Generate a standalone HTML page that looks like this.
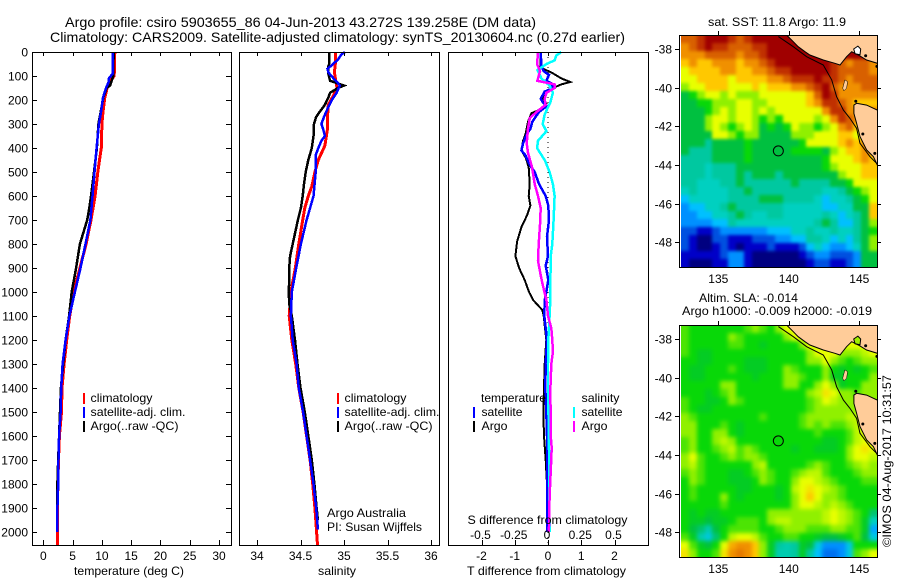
<!DOCTYPE html>
<html>
<head>
<meta charset="utf-8">
<title>Argo profile</title>
<style>
html,body{margin:0;padding:0;background:#fff;}
svg{display:block;}
text{font-family:"Liberation Sans",sans-serif;font-size:12px;fill:#000;}
.t{font-size:14px;}
</style>
</head>
<body>
<svg id="chart" width="900" height="580" viewBox="0 0 900 580" xmlns="http://www.w3.org/2000/svg">
<rect width="900" height="580" fill="#fff"/>
<text class="t" x="65" y="27" textLength="471" lengthAdjust="spacingAndGlyphs">Argo profile: csiro 5903655_86 04-Jun-2013 43.272S 139.258E (DM data)</text>
<text class="t" x="50" y="42" textLength="575" lengthAdjust="spacingAndGlyphs">Climatology: CARS2009. Satellite-adjusted climatology: synTS_20130604.nc (0.27d earlier)</text>
<g id="marks"></g>
<g id="labels">
<text x="74" y="575" textLength="110" lengthAdjust="spacingAndGlyphs">temperature (deg C)</text>
<text x="318" y="575" textLength="38" lengthAdjust="spacingAndGlyphs">salinity</text>
<text x="467" y="575" textLength="159" lengthAdjust="spacingAndGlyphs">T difference from climatology</text>
<text x="467.5" y="524" textLength="160" lengthAdjust="spacingAndGlyphs">S difference from climatology</text>
<rect x="83" y="393" width="2" height="11" fill="#f00"/>
<rect x="83" y="407" width="2" height="11" fill="#00f"/>
<rect x="83" y="421" width="2" height="11" fill="#000"/>
<text x="90.5" y="402" textLength="62" lengthAdjust="spacingAndGlyphs">climatology</text>
<text x="90.5" y="416" textLength="95" lengthAdjust="spacingAndGlyphs">satellite-adj. clim.</text>
<text x="90.5" y="430" textLength="88" lengthAdjust="spacingAndGlyphs">Argo(..raw -QC)</text>
<rect x="337" y="393" width="2" height="11" fill="#f00"/>
<rect x="337" y="407" width="2" height="11" fill="#00f"/>
<rect x="337" y="421" width="2" height="11" fill="#000"/>
<text x="344.5" y="402" textLength="62" lengthAdjust="spacingAndGlyphs">climatology</text>
<text x="344.5" y="416" textLength="95" lengthAdjust="spacingAndGlyphs">satellite-adj. clim.</text>
<text x="344.5" y="430" textLength="88" lengthAdjust="spacingAndGlyphs">Argo(..raw -QC)</text>
<text x="327" y="517" textLength="79" lengthAdjust="spacingAndGlyphs">Argo Australia</text>
<text x="327" y="531" textLength="95" lengthAdjust="spacingAndGlyphs">PI: Susan Wijffels</text>
<text x="481" y="402" textLength="65" lengthAdjust="spacingAndGlyphs">temperature</text>
<text x="481.5" y="416" textLength="41" lengthAdjust="spacingAndGlyphs">satellite</text>
<text x="481.5" y="430" textLength="26" lengthAdjust="spacingAndGlyphs">Argo</text>
<rect x="473" y="407" width="2" height="11" fill="#00f"/>
<rect x="473" y="421" width="2" height="11" fill="#000"/>
<text x="581.5" y="402" textLength="38" lengthAdjust="spacingAndGlyphs">salinity</text>
<text x="581.5" y="416" textLength="41" lengthAdjust="spacingAndGlyphs">satellite</text>
<text x="581.5" y="430" textLength="26" lengthAdjust="spacingAndGlyphs">Argo</text>
<rect x="573" y="407" width="2" height="11" fill="#0ff"/>
<rect x="573" y="421" width="2" height="11" fill="#f0f"/>
<text x="708" y="26" textLength="138" lengthAdjust="spacingAndGlyphs">sat. SST: 11.8 Argo: 11.9</text>
<text x="699" y="302" textLength="99" lengthAdjust="spacingAndGlyphs">Altim. SLA: -0.014</text>
<text x="682" y="315" textLength="190" lengthAdjust="spacingAndGlyphs">Argo h1000: -0.009 h2000: -0.019</text>
<text transform="translate(891,547) rotate(-90)" x="0" y="0" textLength="172" lengthAdjust="spacingAndGlyphs">©IMOS 04-Aug-2017 10:31:57</text>
</g>
</svg>
<script>
// ---------- profile data (depth in m) ----------
var depthTicks = [0,100,200,300,400,500,600,700,800,900,1000,1100,1200,1300,1400,1500,1600,1700,1800,1900,2000];
var tempTicks = [0,5,10,15,20,25,30];
var salTicks = ['34','34.5','35','35.5','36'];
var tDiffTicks = ['-2','-1','0','1','2'];
var sDiffTicks = ['-0.5','-0.25','0','0.25','0.5'];

var tempClimDepth = [0,100,130,190,250,300,400,450,500,600,700,800,900,1000,1100,1200,1300,1400,1500,1600,1700,1800,1900,2000,2055];
var tempClim = [12.2,12.1,11.1,10.5,10.2,10,9.9,9.6,9.3,8.85,8.15,7.3,6.25,5.2,4.5,4,3.55,3.2,3.1,2.75,2.6,2.5,2.4,2.4,2.4];
var tempArgoDepth = [0,100,140,150,190,250,300,400,500,600,650,700,800,900,1000,1100,1200,1300,1400,1500,1600,1700,1800,1900,2000];
var tempArgo = [12,11.95,11.4,10.8,10.25,9.8,9.4,9.15,8.65,8.15,7.85,7.5,6.25,5.6,4.85,4.4,3.8,3.4,3,2.85,2.7,2.55,2.4,2.35,2.4];
var tempSatDepth = [0,90,110,125,150,190,250,300,400,500,600,700,800,900,1000,1100,1200,1300,1400,1500,1600,1700,1800,1900,2000];
var tempSat = [11.85,11.85,11.2,11.15,10.7,10.2,9.85,9.5,9.1,8.75,8.4,8.05,7.2,6.35,5.4,4.45,3.8,3.3,3.05,2.95,2.7,2.6,2.55,2.4,2.35];

var salClimDepth = [0,50,85,130,150,180,220,270,320,390,450,500,560,600,650,700,800,900,1000,1100,1200,1300,1400,1500,1600,1700,1800,1900,2000,2055];
var salClim = [34.9,34.9,34.89,34.91,34.92,34.88,34.82,34.81,34.81,34.78,34.705,34.665,34.63,34.59,34.55,34.525,34.48,34.44,34.39,34.37,34.4,34.445,34.48,34.53,34.57,34.61,34.64,34.665,34.685,34.695];
var salArgoDepth = [0,50,60,90,120,130,140,150,170,190,220,250,270,300,350,400,450,500,550,600,650,700,750,800,850,900,950,1000,1050,1100,1200,1300,1400,1500,1600,1700,1800,1900,1950];
var salArgo = [34.83,34.83,34.82,34.82,34.84,34.92,35,34.93,34.84,34.82,34.78,34.72,34.68,34.655,34.65,34.63,34.59,34.56,34.54,34.525,34.505,34.47,34.44,34.41,34.38,34.37,34.37,34.365,34.37,34.4,34.437,34.465,34.5,34.55,34.59,34.63,34.66,34.685,34.7];
var salSatDepth = [0,10,30,55,70,85,110,125,140,170,200,230,270,300,320,350,370,400,430,500,600,650,700,800,900,1000,1100,1200,1300,1400,1500,1600,1700,1800,1900,1990];
var salSat = [35.01,34.97,34.935,34.86,34.81,34.82,34.88,34.92,34.95,34.915,34.86,34.82,34.77,34.74,34.76,34.78,34.74,34.705,34.675,34.675,34.65,34.61,34.57,34.505,34.45,34.4,34.39,34.41,34.455,34.48,34.53,34.57,34.61,34.65,34.68,34.7];

var dTArgoDepth = [0,60,70,85,110,125,135,150,170,195,215,230,255,290,340,370,410,440,480,550,600,640,680,730,790,850,900,950,1000,1033,1075,1100,1200,1300,1400,1500,1600,1700,1800,2000];
var dTArgo = [-0.22,-0.22,-0.15,0.1,0.4,0.67,0.4,0.15,-0.1,-0.15,-0.05,-0.07,-0.5,-0.6,-0.67,-0.75,-0.8,-0.67,-0.58,-0.55,-0.58,-0.53,-0.63,-0.8,-0.93,-0.98,-0.87,-0.7,-0.57,-0.45,-0.17,-0.13,-0.05,-0.1,-0.12,-0.14,-0.12,-0.07,-0.03,-0.02];
var dTSatDepth = [0,60,80,95,120,130,150,165,195,210,225,250,290,320,340,380,410,430,470,500,550,600,640,700,770,850,890,950,1000,1033,1100,1150,1200,1300,1400,1500,1600,1700,1800,2000];
var dTSat = [-0.22,-0.2,-0.13,0.03,-0.05,0.1,0.15,-0.1,-0.22,-0.15,-0.03,-0.27,-0.47,-0.53,-0.63,-0.75,-0.8,-0.68,-0.55,-0.4,-0.27,-0.07,0.01,0.03,-0.03,0,-0.07,0.01,-0.05,-0.1,-0.11,-0.07,-0.03,-0.07,-0.08,-0.05,-0.03,-0.03,-0.03,-0.03];
var dSSatDepth = [0,15,35,50,75,110,140,170,210,260,300,330,370,400,420,450,500,550,600,700,800,850,1000,1033,1100,1200,1300,1400,1600,2000];
var dSSat = [0.1,0.062,0.05,-0.012,-0.08,-0.05,0.012,0.037,0.017,-0.025,-0.04,-0.012,-0.075,-0.082,-0.06,-0.025,0.012,0.037,0.05,0.042,0.032,0.02,0.017,0.017,0.012,0.002,0,0,0.007,0.012];
var dSArgoDepth = [0,50,80,120,135,150,170,195,220,245,275,320,380,420,480,550,600,650,720,800,870,930,970,1033,1100,1150,1200,1250,1300,1400,1600,1650,1750,1850,2000];
var dSArgo = [-0.075,-0.082,-0.06,-0.08,0.05,0.05,-0.012,-0.025,-0.018,-0.075,-0.137,-0.15,-0.16,-0.15,-0.12,-0.1,-0.075,-0.055,-0.06,-0.07,-0.075,-0.055,-0.04,-0.012,0,0.025,0.032,0.037,0.025,0.018,0.02,0.028,0.02,0.012,0.007];

// ---------- map data (colour-scale levels per grid cell) ----------
var mapLonTicks = [135,140,145];
var mapLatTicks = [-38,-40,-42,-44,-46,-48];
var floatLon = [139.258];
var floatLat = [-43.272];
var sstGrid = [
[13,13,14,15,15,15,14,13,14,15,15,15,15,15,15,15,15,15,15,15,15,15,15,15,15],
[12,13,14,15,14,14,13,13,13,14,14,15,15,15,15,15,15,15,15,15,15,15,15,15,15],
[12,12,12,13,13,13,13,12,13,13,14,15,15,15,15,15,15,15,15,15,15,15,15,15,15],
[11,12,11,11,12,12,12,11,12,12,13,14,15,15,15,15,15,15,15,14,13,12,13,13,12],
[10,11,11,11,11,12,12,11,11,12,12,13,14,14,15,15,15,15,15,14,13,13,13,13,12],
[10,10,11,11,11,11,10,11,11,11,11,12,12,13,14,14,14,15,14,14,13,12,13,13,13],
[9,10,10,11,11,11,10,10,10,11,10,11,11,11,12,12,13,14,15,13,12,12,12,13,13],
[7,8,9,10,10,9,10,9,9,9,10,10,10,10,10,10,11,13,15,14,12,12,12,12,12],
[7,7,8,8,9,9,9,10,10,9,9,10,10,10,10,10,11,12,14,14,13,12,11,11,11],
[7,7,7,8,9,10,9,10,10,9,10,9,10,10,10,10,10,10,12,14,14,12,12,12,12],
[7,7,7,9,10,10,9,10,10,9,8,9,8,10,10,10,10,9,10,12,14,13,12,12,12],
[7,7,7,9,10,9,8,9,10,9,7,8,7,8,10,9,9,8,9,10,12,13,11,11,11],
[7,7,7,7,10,10,9,8,9,9,7,7,7,7,9,9,9,10,10,10,11,11,10,11,11],
[7,7,7,6,7,7,7,7,8,7,7,7,7,7,7,8,10,10,10,10,11,12,11,12,12],
[7,6,6,6,7,7,7,7,8,7,7,7,7,7,8,8,8,8,7,9,10,11,11,12,12],
[6,6,6,6,7,7,7,7,8,7,7,7,7,7,7,7,7,7,8,10,10,10,11,12,11],
[6,6,6,5,6,6,6,7,7,7,7,7,7,7,7,7,7,7,8,9,10,10,10,11,11],
[6,6,6,5,6,6,6,7,6,7,7,7,6,7,7,7,7,7,7,7,9,10,10,11,11],
[6,6,5,5,5,6,6,7,6,6,6,6,6,6,7,6,6,6,6,7,7,8,10,10,10],
[5,6,5,5,5,5,6,6,7,6,6,6,6,6,6,6,6,6,5,5,6,7,8,9,10],
[4,5,5,5,5,5,6,6,6,6,7,7,7,6,6,6,6,5,4,5,5,6,7,8,10],
[3,4,4,5,5,6,7,6,6,6,6,6,6,5,5,5,5,5,4,4,5,5,7,7,11],
[3,3,4,4,5,5,6,7,6,5,5,6,6,5,5,5,5,5,6,5,4,5,6,7,11],
[3,3,3,3,4,4,6,5,5,5,5,5,5,5,5,5,5,6,7,6,4,4,6,7,9],
[2,2,1,1,2,3,3,3,3,3,3,4,4,4,5,5,6,5,5,6,5,5,6,7,8],
[2,1,0,0,2,2,1,1,1,2,2,2,3,3,4,4,6,6,5,4,5,4,6,7,9],
[2,1,0,0,1,2,1,0,1,1,1,2,1,1,1,2,4,5,4,3,3,4,5,7,9],
[1,1,1,1,1,2,3,3,1,0,0,0,0,0,0,1,2,3,3,2,2,2,3,7,7],
[1,0,0,0,1,1,3,3,1,0,0,0,0,0,0,0,1,2,2,1,1,2,3,7,7]
];
var slaGrid = [
[8.5,8,8,8,8,8,8,8,8.5,9,8.5,8,9,10,10,10,10,10,10,10,10,10,10,10,10],
[8.5,8,8,8,8,8,9,8.5,8,8,8,8,8,9,10,10,10,10,10,10,10,10,10,10,10],
[8.5,8,8,8,8,8,8.5,8.5,8,8,7.5,8,8,8,8,9,10,10,10,10,10,10,10,10,10],
[8.5,8,7.5,7.5,8,8,8,8,8,8,8,8,8,8,8,8,9,10,10,10,9,9,9,9.5,10],
[8,8,7.5,7.5,8,8,8,8,7.5,7.5,7.5,8,8,8,8,8,9,9,10,9,8.5,8,8.5,9,9],
[8,7.5,7.5,8,8,8,8.5,8,7.5,7.5,7.5,8,8,9,8.5,8,8,8,9,8,7.5,8,7.5,8,8.5],
[8,7.5,7.5,8,8,8,8,8,8,7.5,8,8,8,9,9,8.5,8,8,9,7.5,7.5,8,8,8,9],
[8,8,8,8,8,9,9,8,8,8,8,8,8,9,9,8,8,9,10,9,7.5,8,8,9,9],
[8,8,8,7.5,8,8.5,9,8,8,8,8,8,8,8,8,8,9,9.5,10.5,10,9,9,8.5,9,9],
[8.5,8,8,7.5,7.5,8,9,8.5,8,8,8,8,8,8,8,8,8.5,9,10,9.5,9,9,9,9,9],
[8.5,8,7.5,7.5,8,8,8,8,8,8,8,8,8,8,8,8,8.5,9,9,9,9,9,9,9,9],
[9,8.5,8,8,8,8,8,8,8,8,8.5,8,8,8,8,8.5,9,9,9,9,9,9.5,9.5,9.5,9.5],
[9,9,8,8,8,8.5,8,7.5,8,8,8,8,8,8,8,8.5,9,8.5,9,8.5,8.5,9,9.5,10,10],
[9,9,8,8,9,9,8,7.5,8,8,8,8,8,8,8,8,8,8.5,8,8,8,8.5,9.5,10,10],
[8.5,9,8,8,9,9.5,9,8,8,8,8,8,8,8,8,8,8,8,7.5,7.5,8,8.5,9.5,10,10],
[8.5,9,8,8,8.5,9,9.5,8.5,9,8.5,8,8,8,8,7.5,8,8,7.5,7.5,7.5,8,9,10,10.5,10],
[9,10,8.5,8,8,8.5,9,8.5,9,9,8.5,8,8,8,8,8,8,8,8,8,8,9,10,10,9.5],
[9,9.5,8.5,8,8,8,8,8,8,9,9.5,8,8,8,8,8,8.5,9,8.5,8,8,8.5,9,9.5,9],
[8.5,9,8.5,8,8,8,7.5,7.5,8,8.5,9,8.5,8,8,8.5,9,9.5,9.5,8.5,8,8,8,8.5,9,9],
[8,9,8.5,8,8,8,7.5,7.5,7.5,8,9,8.5,8,8,9,10,10,9.5,9,8.5,8,8,8,8.5,8.5],
[8,8.5,8,8,8,8,8,7.5,7.5,8,8,8,7.5,8,9.5,10,10.5,10,9.5,9,8.5,8,8,8,8],
[8,8.5,8,8,8,9,8,7.5,8,8,8,8,7.5,8,9,10,11,10,9,9,8.5,8,8,8,8],
[8,8,8,8,8,8.5,8,8,8,8,8,8,8,8,9,10,10,9.5,9,9.5,9,8.5,8,8,8],
[8,7.5,8,7.5,7.5,8,8,8,8,8,8,9,9,9,9,9,9,9,9.5,10,9.5,9,8.5,8,6.5],
[8,7.5,7.5,7,7.5,7.5,8,8.5,8.5,8.5,8,9,9.5,9.5,9,9,9,9,9.5,10,9.5,9,8.5,7.5,5],
[8,7,6.5,5.5,7,8,8.5,8.5,8.5,8.5,8,8,8.5,9,9,9,8.5,8.5,8.5,9,9,8.5,8.5,7.5,3.5],
[8.5,7.5,5.5,4.5,6.5,8,9.5,10,10,9.5,8.5,8,8,8.5,8.5,8,8,7.5,7,7,7.5,8,8.5,7,4.5],
[10,8.5,7.5,7,8,10,11.5,12,12,11,9,7.5,6,5.5,6,7.5,7,4.5,3,3,3,4.5,8,8,8],
[10.5,9,8,8,8.5,10.5,12,12.5,12,11,9,7.5,5.5,5.5,6,7.5,6,4,2.5,2.5,3,4.5,8.5,9,10]
];
var colorScale = ['#000080','#0000c8','#0050e0','#0090ff','#00c0ff','#00d0c0','#00c8a0','#00c040','#08d808','#90f000','#e8ff00','#ffc800','#f09000','#d86000','#c03000','#a00000'];

// coast outlines (lon/lat)
var victoriaLon = [139.85,140.32,140.67,141.15,141.5,142.45,143.27,143.63,144.1,144.46,144.93,145.52,146.28,146.6,146.6];
var victoriaLat = [-37.28,-37.62,-37.88,-38.14,-38.31,-38.57,-38.74,-38.83,-38.4,-38.14,-38.31,-38.57,-38.74,-38.74,-37.28];
var tasmaniaLon = [144.62,144.81,145.52,146.28,146.6,146.6,146.28,146,145.52,145.05,144.81,144.62];
var tasmaniaLat = [-40.9,-40.81,-40.9,-41.16,-41.16,-44,-44,-43.57,-43.22,-42.53,-41.84,-41.33];
var kingIslandLon = [143.82,143.98,144.17,144.1,143.91];
var kingIslandLat = [-40.03,-39.6,-39.69,-40.03,-40.17];
var phillipIslandLon = [144.6,144.9,145.1,145.05,144.7];
var phillipIslandLat = [-38,-37.85,-38,-38.3,-38.25];
var shelfLon = [139.26,140.32,141.26,142.45,143.04,143.39,143.87,144.34,144.81,145.05,145.76,146.28];
var shelfLat = [-37.36,-37.88,-38.4,-38.83,-39.6,-40.47,-41.16,-41.59,-42.1,-42.88,-43.57,-43.95];
var smallIslesLon = [145.45,144.75,145.25,146.1,146.25];
var smallIslesLat = [-38.35,-40.7,-42.4,-43.4,-38.9];

// ---------- axis functions ----------
var NS = 'http://www.w3.org/2000/svg';
var root = document.getElementById('marks');
function mk(tag, attrs, parent) {
  var el = document.createElementNS(NS, tag);
  for (var k in attrs) el.setAttribute(k, attrs[k]);
  (parent || root).appendChild(el);
  return el;
}
function yDepth(d) { return 52 + d * 0.24; }
function xTemp(t) { return 43.3 + t * 5.857; }
function xSal(s) { return 257 + (s - 34) * 87; }
function xDT(t) { return 548 + t * 33.25; }
function xDS(s) { return 548 + s * 133; }
function xLon(lon) { return 718.3 + (lon - 135) * 14.1; }
function pts(xs, ys, fx, fy) {
  var out = [];
  for (var i = 0; i < xs.length; i++) out.push(fx(xs[i]).toFixed(1) + ',' + fy(ys[i]).toFixed(1));
  return out.join(' ');
}
function hLine(x1, x2, y, name) {
  var el = mk('line', {x1:x1, x2:x2, y1:y, y2:y, stroke:'#000', 'stroke-width':1, 'shape-rendering':'crispEdges'});
  
  
  return el;
}
function vLine(x, y1, y2, name) {
  var el = mk('line', {x1:x, x2:x, y1:y1, y2:y2, stroke:'#000', 'stroke-width':1, 'shape-rendering':'crispEdges'});
  
  
  return el;
}
function label(str, x, y, anchor, name) {
  var el = mk('text', {x:x, y:y, 'text-anchor':anchor});
  el.textContent = str;
  
  
  return el;
}
function series(valuesX, depths, fx, color, width, name) {
  var el = mk('polyline', {points: pts(valuesX, depths, fx, yDepth), fill:'none', stroke:color, 'stroke-width':width, 'stroke-linejoin':'miter', 'shape-rendering':'crispEdges'});
  
  
  return el;
}
function frame(x1, y1, x2, y2, name) {
  var el = mk('rect', {x:x1 + 0.5, y:y1 + 0.5, width:x2 - x1, height:y2 - y1, fill:'none', stroke:'#000', 'stroke-width':1, 'shape-rendering':'crispEdges'});
  
  
}
function xTicksIn(fx, values, name) {
  for (var i = 0; i < values.length; i++) {
    var x = Math.round(fx(+values[i])) + 0.5;
    vLine(x, 52, 56, name + '-top-tick');
    vLine(x, 540, 545, name + '-bottom-tick');
  }
}

// ---------- series ----------
series(tempClim, tempClimDepth, xTemp, '#f00', 3, 'temperature-climatology-line');
series(tempArgo, tempArgoDepth, xTemp, '#000', 2.5, 'temperature-argo-line');
series(tempSat, tempSatDepth, xTemp, '#00f', 2.5, 'temperature-satellite-line');
series(salClim, salClimDepth, xSal, '#f00', 3, 'salinity-climatology-line');
series(salArgo, salArgoDepth, xSal, '#000', 2.5, 'salinity-argo-line');
series(salSat, salSatDepth, xSal, '#00f', 2.5, 'salinity-satellite-line');

var zero = mk('line', {x1:xDT(0), x2:xDT(0), y1:52, y2:545, stroke:'#000', 'stroke-width':1, 'stroke-dasharray':'1 4', 'shape-rendering':'crispEdges'});


series(dTArgo, dTArgoDepth, xDT, '#000', 2, 't-difference-argo-line');
series(dTSat, dTSatDepth, xDT, '#00f', 2.5, 't-difference-satellite-line');
series(dSSat, dSSatDepth, xDS, '#0ff', 2.5, 's-difference-satellite-line');
series(dSArgo, dSArgoDepth, xDS, '#f0f', 2.5, 's-difference-argo-line');

// ---------- frames and ticks ----------
frame(32, 52, 231, 545, 'temperature-plot-frame');
frame(239, 52, 439, 545, 'salinity-plot-frame');
frame(448, 52, 648, 545, 'difference-plot-frame');

depthTicks.forEach(function (d) {
  var y = Math.round(yDepth(d)) + 0.5;
  hLine(32, 37, y, 'depth-left-tick');
  hLine(226, 231, y, 'depth-right-tick');
  label(String(d), 28, y + 4, 'end', 'depth-tick-label');
});
xTicksIn(xTemp, tempTicks, 'temperature');
tempTicks.forEach(function (t) { label(String(t), xTemp(t), 560, 'middle', 'temperature-tick-label'); });
xTicksIn(xSal, salTicks, 'salinity');
salTicks.forEach(function (s) { label(s, xSal(+s), 560, 'middle', 'salinity-tick-label'); });
xTicksIn(xDT, tDiffTicks, 't-difference');
tDiffTicks.forEach(function (t) { label(t, xDT(+t), 560, 'middle', 't-difference-tick-label'); });
sDiffTicks.forEach(function (s) { label(s, xDS(+s) - 1, 539, 'middle', 's-difference-tick-label'); });

// ---------- maps ----------
function levelColor(v) {
  var lo = Math.floor(v), hi = Math.min(lo + 1, colorScale.length - 1), f = v - lo;
  var a = colorScale[lo], b = colorScale[hi], c = [];
  for (var i = 0; i < 3; i++) {
    var p = parseInt(a.substr(1 + i * 2, 2), 16), q = parseInt(b.substr(1 + i * 2, 2), 16);
    c.push(Math.round(p + (q - p) * f));
  }
  return 'rgb(' + c.join(',') + ')';
}
function drawMap(grid, top, latAt38, name, islandFill, blurAmount) {
  var bottom = top + 232, left = 681, right = 877, bleed = 12;
  function yLat(lat) { return latAt38 + (-38 - lat) * 19.33; }
  var clipId = name + '-clip', blurId = name + '-blur';
  var defs = mk('defs', {});
  var clip = mk('clipPath', {id: clipId}, defs);
  mk('rect', {x:left, y:top, width:right - left, height:232}, clip);
  var blur = mk('filter', {id: blurId, filterUnits:'userSpaceOnUse', x:left - 20, y:top - 20, width:right - left + 40, height:272, 'color-interpolation-filters':'sRGB'}, defs);
  mk('feGaussianBlur', {stdDeviation: blurAmount}, blur);
  var g = mk('g', {'clip-path':'url(#' + clipId + ')'});
  
  
  var cells = mk('g', {filter:'url(#' + blurId + ')'}, g);
  var cw = (right - left) / grid[0].length, ch = 232 / grid.length;
  grid.forEach(function (row, r) {
    row.forEach(function (v, c) {
      var x0 = Math.round(left + c * cw), x1 = Math.round(left + (c + 1) * cw);
      var y0 = Math.round(top + r * ch), y1 = Math.round(top + (r + 1) * ch);
      if (c === 0) x0 -= bleed;
      if (c === row.length - 1) x1 += bleed;
      if (r === 0) y0 -= bleed;
      if (r === grid.length - 1) y1 += bleed;
      var cell = mk('rect', {x:x0, y:y0, width:x1 - x0, height:y1 - y0, fill:levelColor(v), 'shape-rendering':'crispEdges'}, cells);
      
      
    });
  });
  var land1 = mk('polygon', {points: pts(victoriaLon, victoriaLat, xLon, yLat), fill:'#ffcc99', stroke:'#000', 'stroke-width':1}, g);
  
  
  var land2 = mk('polygon', {points: pts(tasmaniaLon, tasmaniaLat, xLon, yLat), fill:'#ffcc99', stroke:'#000', 'stroke-width':1}, g);
  
  
  var king = mk('polygon', {points: pts(kingIslandLon, kingIslandLat, xLon, yLat), fill:'#ffcc99', stroke:'#000', 'stroke-width':0.5}, g);
  
  
  var phil = mk('polygon', {points: pts(phillipIslandLon, phillipIslandLat, xLon, yLat), fill:islandFill, stroke:'#000', 'stroke-width':1}, g);
  
  
  var shelf = mk('polyline', {points: pts(shelfLon, shelfLat, xLon, yLat), fill:'none', stroke:'#000', 'stroke-width':1}, g);
  
  
  smallIslesLon.forEach(function (lon, i) {
    var dot = mk('circle', {cx:xLon(lon), cy:yLat(smallIslesLat[i]), r:1.5, fill:'#000'}, g);
    
    
  });
  var marker = mk('circle', {cx:xLon(floatLon[0]), cy:yLat(floatLat[0]), r:5, fill:'none', stroke:'#000', 'stroke-width':1}, g);
  
  
  frame(679, top, 877, bottom, name + '-frame');
  mapLatTicks.forEach(function (lat) {
    var y = Math.round(yLat(lat)) + 0.5;
    hLine(675, 679, y, name + '-lat-tick');
    hLine(877, 881, y, name + '-lat-tick');
    label(String(lat), 672, y + 4, 'end', name + '-lat-label');
  });
  mapLonTicks.forEach(function (lon) {
    var x = Math.round(xLon(lon)) + 0.5;
    vLine(x, top - 4, top, name + '-lon-tick');
    label(String(lon), xLon(lon), bottom + 16, 'middle', name + '-lon-label');
  });
}
drawMap(sstGrid, 35, 49, 'sst-map', '#ffffff', 1.5);
drawMap(slaGrid, 325, 339, 'sla-map', '#a0f000', 2.2);
</script>
</body>
</html>
